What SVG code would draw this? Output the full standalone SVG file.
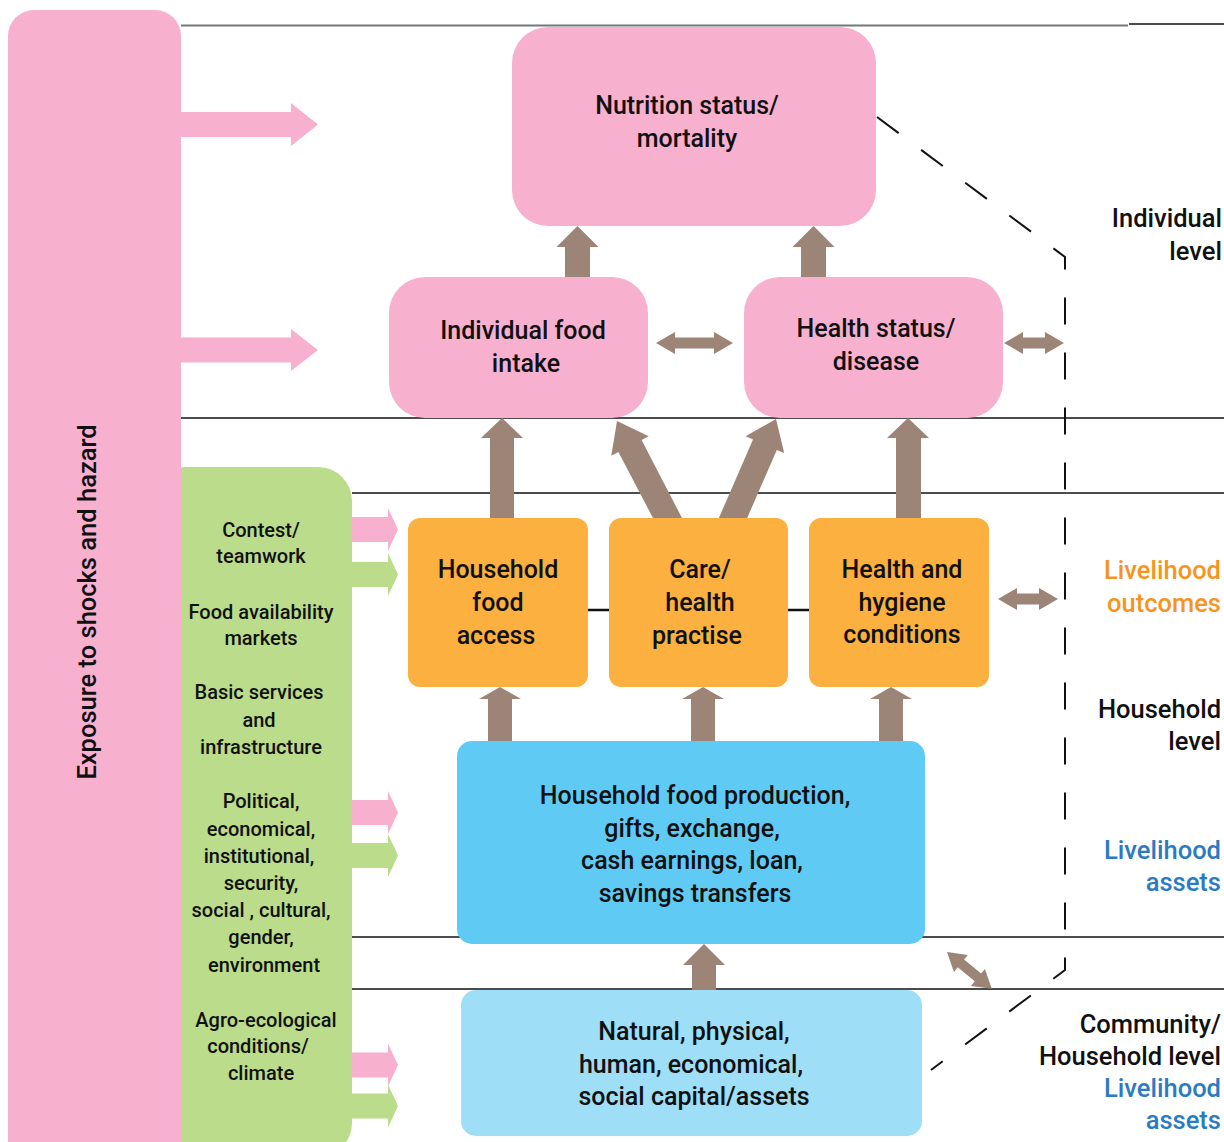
<svg xmlns="http://www.w3.org/2000/svg" width="1224" height="1142" viewBox="0 0 1224 1142">
<style>
text{font-family:Roboto,"Liberation Sans",sans-serif;font-weight:500;fill:#111;text-anchor:middle}
.big{font-size:25px}
.sm{font-size:20px}
.rt{font-size:25.5px;text-anchor:end}
.or{fill:#F7941D}
.bl{fill:#2B7BC1}
.ln{stroke:#111;stroke-width:1.5;fill:none}
.lg{stroke:#777;stroke-width:2;fill:none}
.br{fill:#9C8577}
.pk{fill:#F8B0CF}
.gr{fill:#BBDC8A}
.dash{stroke:#111;stroke-width:2;fill:none;stroke-dasharray:27 28}
</style>
<rect width="1224" height="1142" fill="#fff"/>
<!-- level lines -->
<g id="lines">
<line class="lg" x1="181" y1="25.5" x2="1128" y2="25.5"/>
<line class="ln" x1="1129" y1="24" x2="1224" y2="24"/>
<line class="ln" x1="181" y1="418" x2="1224" y2="418"/>
<line class="ln" x1="352" y1="493" x2="1224" y2="493"/>
<line class="ln" x1="352" y1="937" x2="1224" y2="937"/>
<line class="ln" x1="352" y1="989" x2="1224" y2="989"/>
<line stroke="#111" stroke-width="2.5" x1="588" y1="610" x2="809" y2="610"/>
</g>
<!-- green context box -->
<g id="context">
<rect x="150" y="467" width="202" height="690" rx="34" class="gr"/>
<text class="sm" x="261" y="537">Contest/</text>
<text class="sm" x="261" y="563">teamwork</text>
<text class="sm" x="261" y="619">Food availability</text>
<text class="sm" x="261" y="645">markets</text>
<text class="sm" x="259" y="699">Basic services</text>
<text class="sm" x="259" y="727">and</text>
<text class="sm" x="261" y="754">infrastructure</text>
<text class="sm" x="261" y="808">Political,</text>
<text class="sm" x="261" y="836">economical,</text>
<text class="sm" x="259" y="863">institutional,</text>
<text class="sm" x="261" y="890">security,</text>
<text class="sm" x="261" y="917">social , cultural,</text>
<text class="sm" x="261" y="944">gender,</text>
<text class="sm" x="264" y="972">environment</text>
<text class="sm" x="266" y="1027">Agro-ecological</text>
<text class="sm" x="258" y="1053">conditions/</text>
<text class="sm" x="261" y="1080">climate</text>
</g>
<!-- pink exposure bar -->
<g id="exposure">
<rect x="8" y="10" width="173" height="1160" rx="26" class="pk"/>
<text transform="translate(96,602) rotate(-90)" style="font-size:25.5px">Exposure to shocks and hazard</text>
</g>
<g id="nutrition">
<rect x="512" y="27" width="364" height="199" rx="36" class="pk"/>
<text class="big" x="687" y="114">Nutrition status/</text>
<text class="big" x="687" y="147">mortality</text>
</g>
<g id="intake">
<rect x="389" y="277" width="259" height="141" rx="36" class="pk"/>
<text class="big" x="523" y="339">Individual food</text>
<text class="big" x="526" y="372">intake</text>
</g>
<g id="health">
<rect x="744" y="277" width="259" height="141" rx="36" class="pk"/>
<text class="big" x="876" y="337">Health status/</text>
<text class="big" x="876" y="370">disease</text>
</g>
<g id="hhfood">
<rect x="408" y="518" width="180" height="169" rx="12" fill="#FBB040"/>
<text class="big" x="498" y="578">Household</text>
<text class="big" x="498" y="611">food</text>
<text class="big" x="496" y="644">access</text>
</g>
<g id="care">
<rect x="609" y="518" width="179" height="169" rx="12" fill="#FBB040"/>
<text class="big" x="700" y="578">Care/</text>
<text class="big" x="700" y="611">health</text>
<text class="big" x="697" y="644">practise</text>
</g>
<g id="hygiene">
<rect x="809" y="518" width="180" height="169" rx="12" fill="#FBB040"/>
<text class="big" x="902" y="578">Health and</text>
<text class="big" x="902" y="611">hygiene</text>
<text class="big" x="902" y="643">conditions</text>
</g>
<g id="production">
<rect x="457" y="741" width="468" height="203" rx="15" fill="#5FCBF5"/>
<text class="big" x="695" y="804">Household food production,</text>
<text class="big" x="692" y="837">gifts, exchange,</text>
<text class="big" x="692" y="869">cash earnings, loan,</text>
<text class="big" x="695" y="902">savings transfers</text>
</g>
<g id="capital">
<rect x="461" y="990" width="461" height="146" rx="15" fill="#9EDEF7"/>
<text class="big" x="694" y="1040">Natural, physical,</text>
<text class="big" x="691" y="1073">human, economical,</text>
<text class="big" x="694" y="1105">social capital/assets</text>
</g>
<!-- right labels -->
<g id="labels">
<text class="rt" x="1222" y="227">Individual</text>
<text class="rt" x="1222" y="260">level</text>
<text class="rt or" x="1221" y="579">Livelihood</text>
<text class="rt or" x="1221" y="612">outcomes</text>
<text class="rt" x="1221" y="718">Household</text>
<text class="rt" x="1221" y="750">level</text>
<text class="rt bl" x="1221" y="859">Livelihood</text>
<text class="rt bl" x="1221" y="891">assets</text>
<text class="rt" x="1221" y="1033">Community/</text>
<text class="rt" x="1221" y="1065">Household level</text>
<text class="rt bl" x="1221" y="1097">Livelihood</text>
<text class="rt bl" x="1221" y="1129">assets</text>
</g>
<!-- connectors -->
<g id="connectors">
<path class="dash" d="M877,117 L1065,257 L1065,970 L931,1070"/>
<polygon class="pk" points="181,112 291,112 291,103 318,124.5 291,146 291,137 181,137"/>
<polygon class="pk" points="181,337.5 291,337.5 291,329 318,350 291,371 291,362.5 181,362.5"/>
<polygon class="pk" points="352,517 388,517 388,508 398,529.5 388,551 388,542 352,542"/>
<polygon class="gr" points="352,562 388,562 388,553 398,574.5 388,596 388,587 352,587"/>
<polygon class="pk" points="352,800 388,800 388,791 398,812.5 388,834 388,825 352,825"/>
<polygon class="gr" points="352,843 388,843 388,834 398,855.5 388,877 388,868 352,868"/>
<polygon class="pk" points="352,1052.5 388,1052.5 388,1043.5 398,1065 388,1086.5 388,1077.5 352,1077.5"/>
<polygon class="gr" points="352,1093.5 388,1093.5 388,1084.5 398,1106 388,1127.5 388,1118.5 352,1118.5"/>
<polygon class="br" points="577.5,226 598.5,247 590,247 590,277 565,277 565,247 556.5,247"/>
<polygon class="br" points="813.5,226 834.5,247 826,247 826,277 801,277 801,247 792.5,247"/>
<polygon class="br" points="502,418 523,438 514,438 514,518 490,518 490,438 481,438"/>
<polygon class="br" points="908,418 929,438 921,438 921,518 896,518 896,438 887,438"/>
<polygon class="br" points="617,421 648.7,436.3 641.6,440 682,518 653,518 618.4,452 611.3,455.7"/>
<polygon class="br" points="776,419 784.2,453.1 776.8,449.9 747.2,518 718.9,518 753,439.5 745.6,436.3"/>
<polygon class="br" points="500,687 521,699 512,699 512,741 488,741 488,699 479,699"/>
<polygon class="br" points="703,687 724,699 715,699 715,741 691,741 691,699 682,699"/>
<polygon class="br" points="891,687 912,699 903,699 903,741 879,741 879,699 870,699"/>
<polygon class="br" points="704,944 725,965 716,965 716,990 692,990 692,965 683,965"/>
<polygon class="br" points="656,343 675,332 675,337.5 714,337.5 714,332 733,343 714,354 714,348.5 675,348.5 675,354"/>
<polygon class="br" points="1004,343 1023,332 1023,337.5 1045,337.5 1045,332 1064,343 1045,354 1045,348.5 1023,348.5 1023,354"/>
<polygon class="br" points="998,599 1017,588 1017,593.5 1039,593.5 1039,588 1058,599 1039,610 1039,604.5 1017,604.5 1017,610"/>
<polygon class="br" transform="translate(947,952) rotate(39.4)" points="0,0 18,-11 18,-5 40,-5 40,-11 58,0 40,11 40,5 18,5 18,11"/>
</g>
</svg>
